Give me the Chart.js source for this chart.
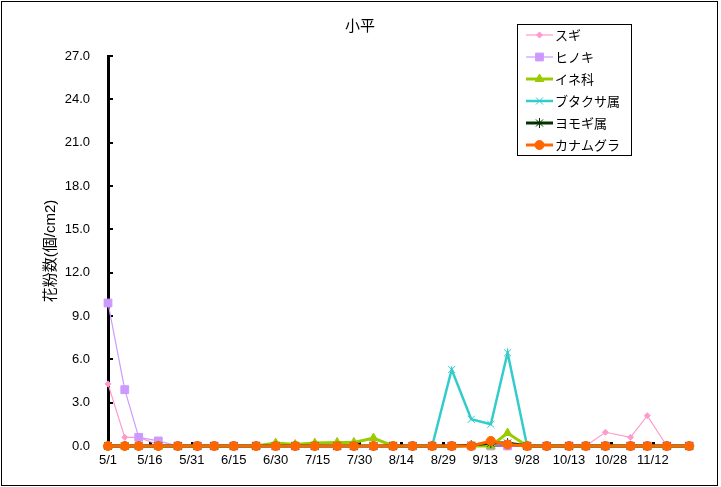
<!DOCTYPE html>
<html><head><meta charset="utf-8">
<script src="https://cdn.jsdelivr.net/npm/chart.js@4/dist/chart.umd.min.js"></script>
<style>html,body{margin:0;padding:0;background:#fff}#wrap{width:721px;height:487px;position:relative}</style>
</head><body><div id="wrap"><canvas id="c" width="721" height="487"></canvas></div>
<script>
const chartTitle = '小平';
const yTitle = '花粉数(個/cm2)';
const dates = ['5/1','5/7','5/12','5/19','5/26','6/2','6/8','6/15','6/23','6/30','7/7','7/14','7/22','7/28','8/4','8/11','8/18','8/25','9/1','9/8','9/15','9/21','9/28','10/5','10/13','10/19','10/26','11/4','11/10','11/17','11/25'];
const seriesNames = ['スギ','ヒノキ','イネ科','ブタクサ属','ヨモギ属','カナムグラ'];
const sugi      = [4.3,0.6,0.6,0.1,0,0,0,0,0,0,0,0,0,0,0,0,0,0,0,0,0,0,0,0,0,0,0.95,0.6,2.1,0,0];
const hinoki    = [9.9,3.9,0.6,0.35,0,0,0,0,0,0,0,0,0,0,0,0,0,0,0,0,0,0,0,0,0,0,0,0,0,0,0];
const ine       = [0,0,0,0,0,0,0,0,0,0.2,0.1,0.2,0.25,0.25,0.55,0,0,0,0,0,0,0.9,0,0,0,0,0,0,0,0,0];
const butakusa  = [0,0,0,0,0,0,0,0,0,0,0,0,0,0,0,0,0,0,5.3,1.85,1.5,6.45,0,0,0,0,0,0,0,0,0];
const yomogi    = [0,0,0,0,0,0,0,0,0,0,0,0,0,0,0,0,0,0,0,0.05,0.2,0.2,0,0,0,0,0,0,0,0,0];
const kanamugura= [0,0,0,0,0,0,0,0,0,0,0,0,0,0,0,0,0,0,0,0,0.35,0.1,0,0,0,0,0,0,0,0,0];
const xTickLabels = ['5/1','5/16','5/31','6/15','6/30','7/15','7/30','8/14','8/29','9/13','9/28','10/13','10/28','11/12'];
const yTickValues = [0,3,6,9,12,15,18,21,24,27];

const monthStart = {5:0,6:31,7:61,8:92,9:123,10:153,11:184};
function dayOf(s){const p=s.split('/').map(Number);return monthStart[p[0]]+p[1]-1;}
const xs = dates.map(dayOf);
function pts(arr){return arr.map((v,i)=>({x:xs[i],y:v}));}

const FONT = '"Liberation Sans","Noto Sans CJK JP",sans-serif';

const styles = [
  {color:'#FF99CC', bw:1.2, ps:'rectRot', r:3, pbw:1},
  {color:'#CC99FF', bw:1.2, ps:'rect', r:5.5, pbw:1},
  {color:'#99CC00', bw:3, ps:'triangle', r:5, pbw:1},
  {color:'#33CCCC', bw:2.5, ps:'crossRot', r:5, pbw:1},
  {color:'#003300', bw:3, ps:'star', r:5, pbw:1},
  {color:'#FF6600', bw:3, ps:'circle', r:4.5, pbw:1}
];
const seriesData = [sugi,hinoki,ine,butakusa,yomogi,kanamugura];
const datasets = seriesData.map((arr,i)=>({
  label: seriesNames[i],
  data: pts(arr),
  borderColor: styles[i].color,
  backgroundColor: styles[i].color,
  borderWidth: styles[i].bw,
  pointStyle: styles[i].ps,
  pointRadius: styles[i].r,
  pointHoverRadius: styles[i].r,
  pointBorderWidth: styles[i].pbw,
  pointBackgroundColor: styles[i].color,
  pointBorderColor: styles[i].color,
  tension: 0,
  clip: false,
  order: seriesData.length - i
}));

const decor = {
  id:'decor',
  beforeDatasetsDraw(chart){
    const ctx = chart.ctx, xS = chart.scales.x, yS = chart.scales.y;
    ctx.save();
    ctx.fillStyle = '#000';
    const ax = chart.chartArea.left;
    yTickValues.forEach(v=>{const y=Math.round(yS.getPixelForValue(v));ctx.fillRect(ax+1,y-1,4,2);});
    const by = chart.chartArea.bottom;
    xTickLabels.forEach((l,i)=>{const x=Math.round(xS.getPixelForValue(i*15));ctx.fillRect(x-1,by-4,3,3);});
    ctx.restore();
  },
  afterDraw(chart){
    const ctx = chart.ctx;
    ctx.save();
    // outer border
    ctx.strokeStyle = '#000'; ctx.lineWidth = 1;
    ctx.strokeRect(1.5,1.5,716,484);
    // title
    ctx.fillStyle = '#000';
    ctx.font = '15px ' + FONT;
    ctx.textAlign = 'center'; ctx.textBaseline = 'middle';
    ctx.fillText(chartTitle, 360, 27);
    // legend
    ctx.fillStyle = '#fff';
    ctx.fillRect(517.5,24.5,114,131);
    ctx.strokeStyle = '#000'; ctx.lineWidth = 1;
    ctx.strokeRect(517.5,24.5,114,131);
    chart.data.datasets.forEach((ds,i)=>{
      const y = 35 + i*22;
      ctx.strokeStyle = ds.borderColor; ctx.lineWidth = ds.borderWidth;
      ctx.beginPath(); ctx.moveTo(526,y); ctx.lineTo(553,y); ctx.stroke();
      ctx.fillStyle = ds.pointBackgroundColor; ctx.strokeStyle = ds.pointBorderColor; ctx.lineWidth = ds.pointBorderWidth;
      if (Chart.helpers && Chart.helpers.drawPoint) {
        Chart.helpers.drawPoint(ctx,{pointStyle:ds.pointStyle,radius:ds.pointRadius,borderWidth:ds.pointBorderWidth,rotation:0},539.5,y);
      }
      ctx.fillStyle = '#000';
      ctx.font = '13px ' + FONT;
      ctx.textAlign = 'left'; ctx.textBaseline = 'middle';
      ctx.fillText(ds.label, 555, y+1);
    });
    ctx.restore();
  }
};

new Chart(document.getElementById('c'), {
  type:'line',
  data:{datasets},
  options:{
    responsive:false,
    animation:false,
    events:[],
    layout:{padding:{top:56,right:29,bottom:0,left:0}},
    plugins:{legend:{display:false},title:{display:false},tooltip:{enabled:false}},
    scales:{
      x:{
        type:'linear', min:0, max:209,
        grid:{display:false, drawTicks:false},
        border:{display:true,color:'#000',width:2},
        afterBuildTicks(s){ s.ticks = xTickLabels.map((l,i)=>({value:i*15})); },
        afterFit(s){ s.height = 41; },
        ticks:{
          autoSkip:false, maxRotation:0, padding:7, color:'#000',
          font:{family:FONT,size:13},
          callback(v){ const i = Math.round(v/15); return xTickLabels[i] || ''; }
        }
      },
      y:{
        min:0, max:27,
        grid:{display:false, drawTicks:false},
        border:{display:true,color:'#000',width:3},
        afterBuildTicks(s){ s.ticks = yTickValues.map(v=>({value:v})); },
        afterFit(s){ s.width = 108; },
        ticks:{
          padding:18, color:'#000',
          font:{family:FONT,size:13},
          callback(v){ return Number(v).toFixed(1); }
        },
        title:{display:true,text:yTitle,color:'#000',font:{family:FONT,size:15},padding:{top:42,bottom:0}}
      }
    }
  },
  plugins:[decor]
});
</script></body></html>
